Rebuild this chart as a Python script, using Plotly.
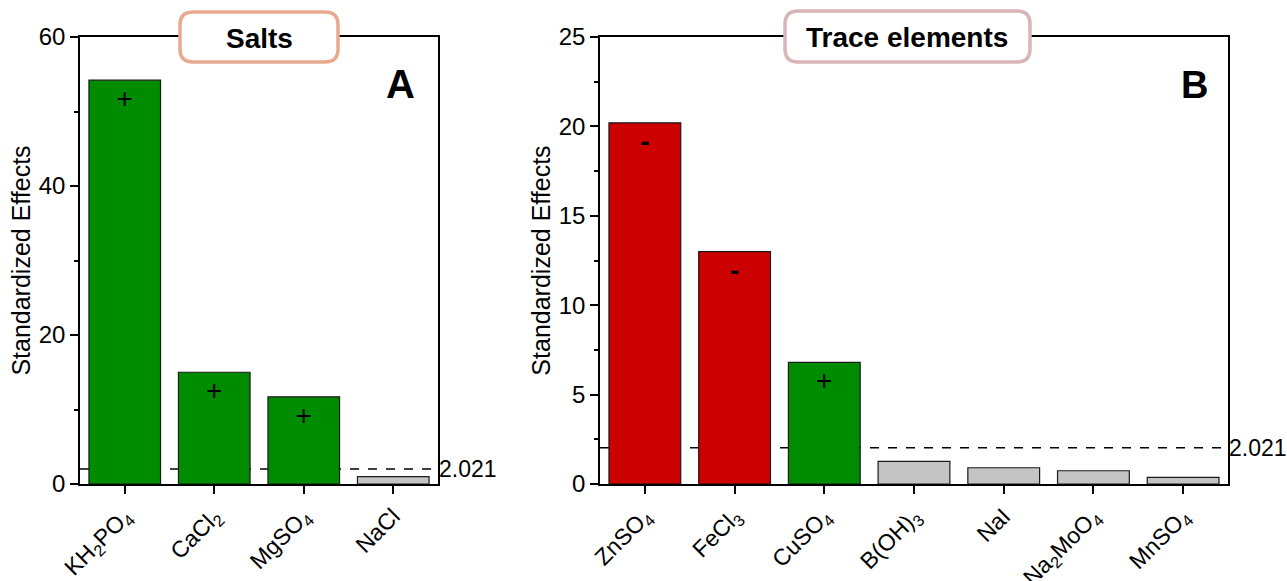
import plotly.graph_objects as go

W, H = 1287, 581

# ---------------- data ----------------
salts = ["KH2PO4", "CaCl2", "MgSO4", "NaCl"]
salts_labels = ["KH<sub>2</sub>PO<sub>4</sub>", "CaCl<sub>2</sub>", "MgSO<sub>4</sub>", "NaCl"]
salts_values = [54.2, 15.0, 11.7, 1.0]
salts_sign = ["+", "+", "+", ""]

trace_el = ["ZnSO4", "FeCl3", "CuSO4", "B(OH)3", "NaI", "Na2MoO4", "MnSO4"]
trace_labels = ["ZnSO<sub>4</sub>", "FeCl<sub>3</sub>", "CuSO<sub>4</sub>", "B(OH)<sub>3</sub>",
                "NaI", "Na<sub>2</sub>MoO<sub>4</sub>", "MnSO<sub>4</sub>"]
trace_values = [20.2, 13.0, 6.8, 1.27, 0.91, 0.74, 0.37]
trace_sign = ["-", "-", "+", "", "", "", ""]

threshold = 2.021
threshold_label = "2.021"

# ---------------- styles ----------------
GREEN = "#008C00"
RED = "#CC0000"
GRAY = "#C4C4C4"
FONT = "Liberation Sans, Arial, sans-serif"


def color_for(sign):
    if sign == "+":
        return GREEN
    if sign == "-":
        return RED
    return GRAY


def px_x(p):
    return p / W


def px_y(p):
    return 1 - p / H


def rounded_rect(x0, y0, x1, y1, r):
    def P(x, y):
        return f"{px_x(x):.5f},{px_y(y):.5f}"
    return (f"M {P(x0 + r, y0)} L {P(x1 - r, y0)} Q {P(x1, y0)} {P(x1, y0 + r)} "
            f"L {P(x1, y1 - r)} Q {P(x1, y1)} {P(x1 - r, y1)} "
            f"L {P(x0 + r, y1)} Q {P(x0, y1)} {P(x0, y1 - r)} "
            f"L {P(x0, y0 + r)} Q {P(x0, y0)} {P(x0 + r, y0)} Z")


fig = go.Figure()

fig.add_trace(go.Bar(
    x=salts, y=salts_values, text=salts_sign,
    marker=dict(color=[color_for(s) for s in salts_sign], line=dict(color="#1a1a1a", width=1.2)),
    textposition="inside", insidetextanchor="end", textangle=0,
    insidetextfont=dict(size=28, color="black", family=FONT),
    xaxis="x", yaxis="y", width=0.8,
))

fig.add_trace(go.Bar(
    x=trace_el, y=trace_values, text=[f"<b>{s}</b>" if s == "-" else s for s in trace_sign],
    marker=dict(color=[color_for(s) for s in trace_sign], line=dict(color="#1a1a1a", width=1.2)),
    textposition="inside", insidetextanchor="end", textangle=0,
    insidetextfont=dict(size=28, color="black", family=FONT),
    xaxis="x2", yaxis="y2", width=0.8,
))

# axis geometry (pixels)
A_L, A_R = 80, 438
B_L, B_R = 600, 1228
TOP, BOT = 37, 484

common_x = dict(
    showline=True, linecolor="black", linewidth=1.5, mirror=True,
    ticks="outside", ticklen=8, tickwidth=1.5, tickcolor="black",
    tickangle=-45, showgrid=False, zeroline=False, automargin=False,
    tickfont=dict(size=23, color="black", family=FONT),
)
common_y = dict(
    showline=True, linecolor="black", linewidth=1.5, mirror=True,
    ticks="outside", ticklen=8, tickwidth=1.5, tickcolor="black",
    showgrid=False, zeroline=False, automargin=False,
    tickfont=dict(size=24, color="black", family=FONT),
    title=dict(text="Standardized Effects", font=dict(size=25, color="black", family=FONT), standoff=1),
)

fig.update_layout(
    width=W, height=H,
    margin=dict(l=0, r=0, t=0, b=0),
    paper_bgcolor="white", plot_bgcolor="white",
    showlegend=False,
    font=dict(family=FONT, color="black", size=24),
    xaxis=dict(common_x, domain=[px_x(A_L), px_x(A_R)], anchor="y",
               tickvals=salts, ticktext=salts_labels, range=[-0.5, len(salts) - 0.5]),
    yaxis=dict(common_y, domain=[px_y(BOT), px_y(TOP)], anchor="x", range=[0, 60], dtick=20,
               minor=dict(ticks="outside", ticklen=4, tickwidth=1.5, dtick=10, tickcolor="black")),
    xaxis2=dict(common_x, domain=[px_x(B_L), px_x(B_R)], anchor="y2",
                tickvals=trace_el, ticktext=trace_labels, range=[-0.5, len(trace_el) - 0.5]),
    yaxis2=dict(common_y, domain=[px_y(BOT), px_y(TOP)], anchor="x2", range=[0, 25], dtick=5,
                minor=dict(ticks="outside", ticklen=4, tickwidth=1.5, dtick=2.5, tickcolor="black")),
)

shapes = []
annotations = []
for xa, ya in [("x", "y"), ("x2", "y2")]:
    shapes.append(dict(type="line", xref=f"{xa} domain", yref=ya, x0=0, x1=1,
                       y0=threshold, y1=threshold, layer="below",
                       line=dict(color="black", width=1.5, dash="dash")))
    annotations.append(dict(xref=f"{xa} domain", yref=ya, x=1, y=threshold, text=threshold_label,
                            showarrow=False, xanchor="left", yanchor="middle", xshift=-1,
                            font=dict(size=23, color="black", family=FONT)))

# title boxes
shapes.append(dict(type="path", xref="paper", yref="paper", path=rounded_rect(180, 12, 338, 62, 13),
                   fillcolor="white", line=dict(color="#E8A98E", width=3.5), layer="above"))
shapes.append(dict(type="path", xref="paper", yref="paper", path=rounded_rect(785, 11, 1030, 62, 13),
                   fillcolor="white", line=dict(color="#D9B5B8", width=3.5), layer="above"))
annotations.append(dict(xref="paper", yref="paper", x=px_x(259), y=px_y(38), text="<b>Salts</b>",
                        xanchor="center", yanchor="middle",
                        showarrow=False, font=dict(size=28, color="black", family=FONT)))
annotations.append(dict(xref="paper", yref="paper", x=px_x(907), y=px_y(37), text="<b>Trace elements</b>",
                        xanchor="center", yanchor="middle",
                        showarrow=False, font=dict(size=28, color="black", family=FONT)))
# panel letters
annotations.append(dict(xref="paper", yref="paper", x=px_x(400), y=px_y(84), text="<b>A</b>",
                        xanchor="center", yanchor="middle",
                        showarrow=False, font=dict(size=40, color="black", family=FONT)))
annotations.append(dict(xref="paper", yref="paper", x=px_x(1194), y=px_y(85), text="<b>B</b>",
                        xanchor="center", yanchor="middle",
                        showarrow=False, font=dict(size=38, color="black", family=FONT)))

fig.update_layout(shapes=shapes, annotations=annotations)

fig.write_html("out.html", config={"displayModeBar": False},
               post_script="document.body.style.margin='0px';")
